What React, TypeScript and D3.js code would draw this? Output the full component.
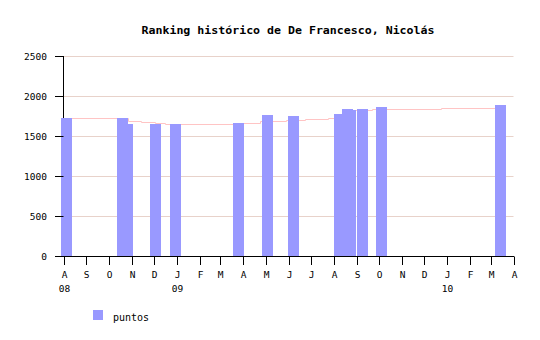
import React from "react";
import * as d3 from "d3";

const titleText = "Ranking histórico de De Francesco, Nicolás";
const seriesName = "puntos";

const barDates = [
  "2008-08-05", "2008-10-20", "2008-10-27", "2008-12-03", "2008-12-30",
  "2009-03-26", "2009-05-04", "2009-06-08", "2009-08-09", "2009-08-20",
  "2009-08-24", "2009-09-09", "2009-10-05", "2010-03-15",
];
const barValues = [
  1731, 1731, 1656, 1656, 1656,
  1669, 1769, 1756, 1781, 1844,
  1831, 1844, 1869, 1894,
];

const lineDates = [
  "2008-08-05", "2008-10-27", "2008-11-14", "2008-12-03", "2008-12-16",
  "2009-03-31", "2009-04-24", "2009-05-29", "2009-06-23", "2009-07-25",
  "2009-08-16", "2009-09-22", "2009-12-24", "2010-03-15",
];
const lineValues = [
  1725, 1688, 1675, 1663, 1650,
  1663, 1688, 1700, 1713, 1725,
  1825, 1838, 1850, 1850,
];

const yTicks = [0, 500, 1000, 1500, 2000, 2500];
const monthLetters = ["J", "F", "M", "A", "M", "J", "J", "A", "S", "O", "N", "D"];
const yearLabels = ["08", "09", "10"];
const yearLabelMonths = ["2008-08-01", "2009-01-01", "2010-01-01"];

const parse = d3.timeParse("%Y-%m-%d");
const FONT = "'DejaVu Sans Mono', monospace";

export default function App() {
  const x = d3
    .scaleTime()
    .domain([parse("2008-08-01")!, parse("2010-04-01")!])
    .range([63.5, 513.5]);
  const y = d3.scaleLinear().domain([0, 2500]).range([256.5, 56.5]);

  const bars = barDates
    .map((d, i) => ({ date: parse(d)!, value: barValues[i] }))
    .sort((a, b) => a.value - b.value);

  const linePts = lineDates.map((d, i) => ({ date: parse(d)!, value: lineValues[i] }));
  const linePath = d3
    .line<{ date: Date; value: number }>()
    .x((d) => Math.round(x(d.date)) + 0.5)
    .y((d) => Math.floor(y(d.value)) + 0.5)
    .curve(d3.curveStepAfter)(linePts);

  const monthTicks = d3.timeMonth.range(parse("2008-08-01")!, parse("2010-04-02")!);
  const barW = 11;
  const x0 = x.range()[0];
  const x1 = x.range()[1];

  return (
    <div style={{ position: "absolute", left: 0, top: 0 }}>
      <svg width={540} height={340} style={{ display: "block", background: "#fff" }}>
        <text
          x={288}
          y={34}
          textAnchor="middle"
          fontFamily={FONT}
          fontWeight="bold"
          fontSize={10}
          textLength={293}
          lengthAdjust="spacingAndGlyphs"
          fill="#000"
        >
          {titleText}
        </text>

        {yTicks
          .filter((t) => t > 0)
          .map((t) => (
            <line
              key={"g" + t}
              x1={x0}
              x2={x1}
              y1={y(t)}
              y2={y(t)}
              stroke="#e8d2ca"
              strokeWidth={1}
            />
          ))}

        <line x1={x0} x2={x0} y1={y(2500) - 0.5} y2={y(0) + 0.5} stroke="#000" />

        {linePath && <path d={linePath} fill="none" stroke="#ffc4c4" strokeWidth={1} />}

        {bars.map((b, i) => {
          const left = Math.round(x(b.date) - barW / 2);
          const top = Math.round(y(b.value));
          return (
            <rect
              key={"b" + i}
              x={left}
              y={top}
              width={barW}
              height={Math.round(y(0)) - top}
              fill="#9999ff"
              shapeRendering="crispEdges"
            />
          );
        })}

        <line x1={x0 - 0.5} x2={x1 + 0.5} y1={y(0)} y2={y(0)} stroke="#000" />

        {yTicks.map((t) => (
          <g key={"yt" + t}>
            <line x1={55} x2={x0} y1={y(t)} y2={y(t)} stroke="#000" />
            <text
              x={47}
              y={y(t) + 3.5}
              textAnchor="end"
              fontFamily={FONT}
              fontSize={9.5}
              fill="#000"
            >
              {t}
            </text>
          </g>
        ))}

        {monthTicks.map((m, i) => {
          const px = Math.round(x(m)) + 0.5;
          return (
            <g key={"xt" + i}>
              <line x1={px} x2={px} y1={y(0)} y2={265} stroke="#000" />
              <text
                x={px}
                y={278}
                textAnchor="middle"
                fontFamily={FONT}
                fontSize={9.5}
                fill="#000"
              >
                {monthLetters[m.getMonth()]}
              </text>
            </g>
          );
        })}

        {yearLabels.map((lab, i) => (
          <text
            key={"yl" + i}
            x={Math.round(x(parse(yearLabelMonths[i])!)) + 0.5}
            y={292}
            textAnchor="middle"
            fontFamily={FONT}
            fontSize={9.5}
            fill="#000"
          >
            {lab}
          </text>
        ))}

        <rect x={93} y={310} width={10} height={10} fill="#9999ff" />
        <text x={113} y={320.5} fontFamily={FONT} fontSize={10} fill="#000">
          {seriesName}
        </text>
      </svg>
    </div>
  );
}
